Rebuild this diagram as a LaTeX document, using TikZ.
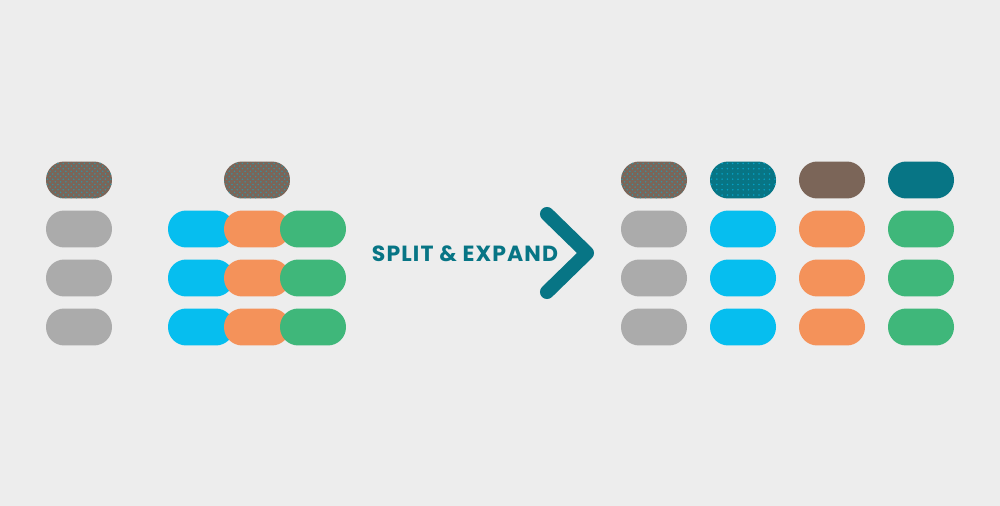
\documentclass[tikz,border=0pt]{standalone}
\usepackage{fontspec}
\newfontfamily\titlefont[LetterSpace=5]{Poppins}
\usepackage{tikz}
\usetikzlibrary{patterns}
\definecolor{bgray}{HTML}{EDEDED}
\definecolor{pgray}{HTML}{ABABAB}
\definecolor{pblue}{HTML}{06BEEF}
\definecolor{porange}{HTML}{F4925A}
\definecolor{pgreen}{HTML}{3FB77A}
\definecolor{pbrown}{HTML}{7B6558}
\definecolor{pteal}{HTML}{077585}
\tikzset{
  pill/.style={rectangle, rounded corners=0.365cm, minimum width=1.32cm,
    minimum height=0.74cm, inner sep=0pt, draw=none, fill=#1},
  dotty/.style={postaction={pattern=crosshatch dots, pattern color=#1}},
  sparse/.style={postaction={pattern=dots, pattern color=#1}}
}

\begin{document}
\begin{tikzpicture}[x=0.02cm, y=-0.02cm]
    \fill[bgray] (0, 0) rectangle (1000, 506);
    % before
    \node[pill=pbrown, dotty=pteal!80] (keyA) at (79, 180) {};
    \node[pill=pbrown, dotty=pteal!80] (keyB) at (257, 180) {};
    \foreach \r/\y in {1/229, 2/278, 3/327} {
        \node[pill=pgray] (row\r) at (79, \y) {};
        \node[pill=pblue] (blue\r) at (201, \y) {};
        \node[pill=porange] (orange\r) at (257, \y) {};
        \node[pill=pgreen] (green\r) at (313, \y) {};
    }
    % arrow and label
    \node[text=pteal] (label) at (465, 254) {\titlefont\bfseries\fontsize{12.5}{15}\selectfont SPLIT \& EXPAND};
    \draw[pteal, line width=8pt, line cap=round, line join=round]
        (547, 214) -- (587, 253) -- (547, 292);
    % after
    \node[pill=pbrown, dotty=pteal!80] (outA) at (654, 180) {};
    \node[pill=pteal, sparse=pblue!60!pteal] (outB) at (743, 180) {};
    \node[pill=pbrown] (outC) at (832, 180) {};
    \node[pill=pteal] (outD) at (921, 180) {};
    \foreach \r/\y in {1/229, 2/278, 3/327} {
        \node[pill=pgray] (gray\r) at (654, \y) {};
        \node[pill=pblue] (cyan\r) at (743, \y) {};
        \node[pill=porange] (peach\r) at (832, \y) {};
        \node[pill=pgreen] (mint\r) at (921, \y) {};
    }
\end{tikzpicture}
\end{document}
